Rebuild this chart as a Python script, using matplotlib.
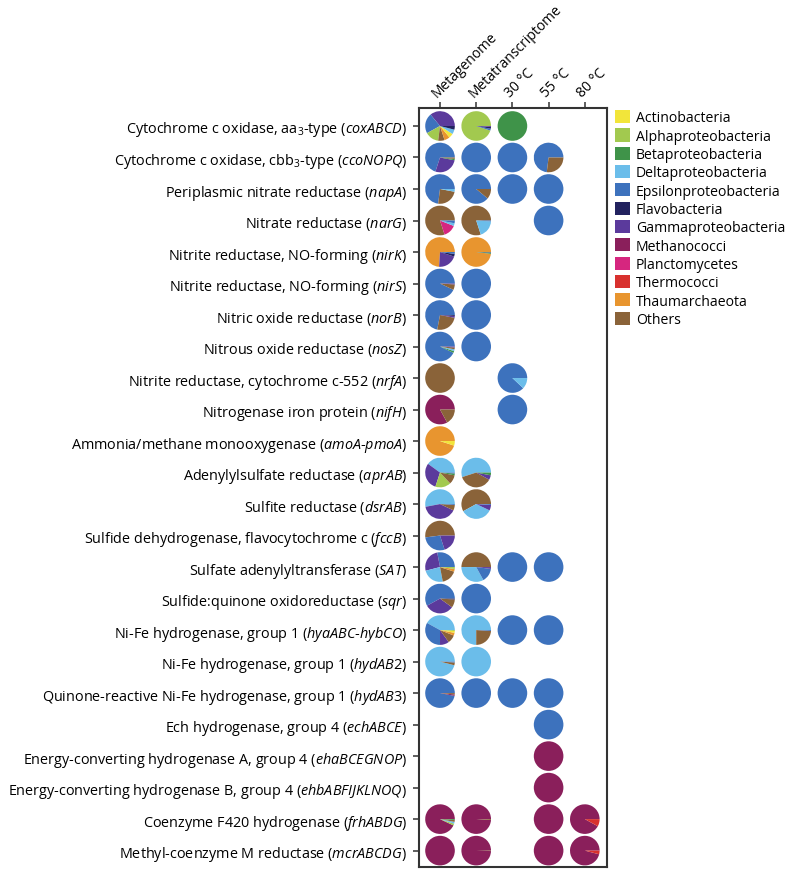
import numpy as np
import matplotlib.pyplot as plt
from matplotlib.patches import Patch

plt.rcParams["font.family"] = ["Open Sans", "DejaVu Sans"]
plt.rcParams["mathtext.fontset"] = "custom"
plt.rcParams["mathtext.rm"] = "Open Sans"
plt.rcParams["mathtext.it"] = "Open Sans:italic"
plt.rcParams["mathtext.bf"] = "Open Sans:bold"


# ---------------------------------------------------------
# DATOS
# ---------------------------------------------------------

taxa = [
    "Actinobacteria",
    "Alphaproteobacteria",
    "Betaproteobacteria",
    "Deltaproteobacteria",
    "Epsilonproteobacteria",
    "Flavobacteria",
    "Gammaproteobacteria",
    "Methanococci",
    "Planctomycetes",
    "Thermococci",
    "Thaumarchaeota",
    "Others",
]
keys = ["Act", "Alp", "Bet", "Del", "Eps", "Fla", "Gam", "Met", "Pla", "The", "Tha", "Oth"]

taxa_colors = [
    "#f2e53a",
    "#a2c94f",
    "#3f9349",
    "#6bbdea",
    "#3d72bd",
    "#22225f",
    "#5b3a9c",
    "#8a1f5b",
    "#d6267f",
    "#d8312e",
    "#e8952f",
    "#8a6339",
]

genes = [
    r"Cytochrome c oxidase, aa$_3$-type ($\mathit{coxABCD}$)",
    r"Cytochrome c oxidase, cbb$_3$-type ($\mathit{ccoNOPQ}$)",
    r"Periplasmic nitrate reductase ($\mathit{napA}$)",
    r"Nitrate reductase ($\mathit{narG}$)",
    r"Nitrite reductase, NO-forming ($\mathit{nirK}$)",
    r"Nitrite reductase, NO-forming ($\mathit{nirS}$)",
    r"Nitric oxide reductase ($\mathit{norB}$)",
    r"Nitrous oxide reductase ($\mathit{nosZ}$)",
    r"Nitrite reductase, cytochrome c-552 ($\mathit{nrfA}$)",
    r"Nitrogenase iron protein ($\mathit{nifH}$)",
    r"Ammonia/methane monooxygenase ($\mathit{amoA}$-$\mathit{pmoA}$)",
    r"Adenylylsulfate reductase ($\mathit{aprAB}$)",
    r"Sulfite reductase ($\mathit{dsrAB}$)",
    r"Sulfide dehydrogenase, flavocytochrome c ($\mathit{fccB}$)",
    r"Sulfate adenylyltransferase ($\mathit{SAT}$)",
    r"Sulfide:quinone oxidoreductase ($\mathit{sqr}$)",
    r"Ni-Fe hydrogenase, group 1 ($\mathit{hyaABC}$-$\mathit{hybCO}$)",
    r"Ni-Fe hydrogenase, group 1 ($\mathit{hydAB2}$)",
    r"Quinone-reactive Ni-Fe hydrogenase, group 1 ($\mathit{hydAB3}$)",
    r"Ech hydrogenase, group 4 ($\mathit{echABCE}$)",
    r"Energy-converting hydrogenase A, group 4 ($\mathit{ehaBCEGNOP}$)",
    r"Energy-converting hydrogenase B, group 4 ($\mathit{ehbABFIJKLNOQ}$)",
    r"Coenzyme F420 hydrogenase ($\mathit{frhABDG}$)",
    r"Methyl-coenzyme M reductase ($\mathit{mcrABCDG}$)",
]

columns = ["Metagenome", "Metatranscriptome", "30 °C", "55 °C", "80 °C"]


def mix(**parts):
    # porcentaje por taxon, en el orden de la leyenda
    return [parts.get(k, 0) for k in keys]


metagenome = [
    mix(Act=5, Alp=15, Del=5, Eps=22, Fla=4, Gam=36, Tha=6, Oth=7),
    mix(Bet=1.5, Eps=70, Gam=27, Oth=1.5),
    mix(Del=3, Eps=73, Oth=24),
    mix(Del=3, Eps=3, Pla=14, Oth=80),
    mix(Eps=2, Fla=3, Gam=21, Tha=74),
    mix(Eps=93, Gam=1, Oth=6),
    mix(Eps=72, Fla=1, Gam=2, Oth=25),
    mix(Bet=2, Del=2, Eps=93, Gam=1, Oth=2),
    mix(Oth=100),
    mix(Met=83, Oth=17),
    mix(Act=5, Tha=95),
    mix(Alp=17, Bet=2, Del=40, Eps=1, Gam=30, Oth=10),
    mix(Del=53, Eps=1, Gam=40, Oth=6),
    mix(Eps=28, Gam=20, Oth=52),
    mix(Alp=2, Del=24, Eps=28, Gam=26, Tha=3, Oth=17),
    mix(Eps=58, Fla=1, Gam=32, Oth=9),
    mix(Act=2, Alp=1, Del=42, Eps=33, Gam=10, Tha=3, Oth=9),
    mix(Del=96, Eps=1, Oth=3),
    mix(Eps=97, Met=1.5, Oth=1.5),
    None,
    None,
    None,
    mix(Alp=2, Bet=1, Del=2, Met=93, Oth=2),
    mix(Met=100),
]

metatranscriptome = [
    mix(Alp=95, Eps=2, Fla=2, Gam=1),
    mix(Eps=100),
    mix(Eps=89, Oth=11),
    mix(Del=19, Eps=1, Oth=80),
    mix(Bet=1.5, Gam=0.5, Tha=98),
    mix(Eps=100),
    mix(Eps=100),
    mix(Eps=100),
    None,
    None,
    None,
    mix(Bet=3, Del=55, Gam=5, Oth=37),
    mix(Del=35, Eps=1, Gam=6, Oth=58),
    None,
    mix(Del=33, Eps=15, Gam=2, Oth=50),
    mix(Eps=100),
    mix(Del=75, Eps=1, Oth=24),
    mix(Del=100),
    mix(Eps=100),
    None,
    None,
    None,
    mix(Met=99, Oth=1),
    mix(Met=99.5, Oth=0.5),
]

temp_30 = [
    mix(Bet=100),
    mix(Eps=100),
    mix(Eps=100),
    None, None, None, None, None,
    mix(Del=12, Eps=88),
    mix(Eps=100),
    None, None, None, None,
    mix(Eps=100),
    None,
    mix(Eps=100),
    None,
    mix(Eps=100),
    None, None, None, None, None,
]

temp_55 = [
    None,
    mix(Eps=73, Oth=27),
    mix(Eps=100),
    mix(Eps=100),
    None, None, None, None, None, None, None, None, None, None,
    mix(Eps=100),
    None,
    mix(Eps=100),
    None,
    mix(Eps=100),
    mix(Eps=100),
    mix(Met=100),
    mix(Met=100),
    mix(Met=100),
    mix(Met=100),
]

temp_80 = [None] * 22 + [
    mix(Met=92, The=8),
    mix(Met=96, The=4),
]

column_data = [metagenome, metatranscriptome, temp_30, temp_55, temp_80]


# ---------------------------------------------------------
# FIGURA
# ---------------------------------------------------------

fig = plt.figure(figsize=(7.87, 8.78), dpi=100)
ax = fig.add_axes([419 / 787, 10 / 878, 188 / 787, 759 / 878])

n_rows = len(genes)
x_step = 36.2 / 31.5  # separacion entre columnas (en unidades de fila)

for c, col in enumerate(column_data):
    for r, vals in enumerate(col):
        if vals is None:
            continue
        vals = np.array(vals, dtype=float)
        # R pie: de mayor a menor, desde las 3 en punto, antihorario
        order = [i for i in np.argsort(-vals, kind="stable") if vals[i] > 0]
        ax.pie(
            vals[order],
            colors=[taxa_colors[i] for i in order],
            center=(c * x_step, n_rows - 1 - r),
            radius=0.47,
            startangle=0,
            counterclock=True,
            frame=True,
            wedgeprops=dict(linewidth=0),
        )

ax.set_aspect("auto")
ax.set_xlim(-0.667, -0.667 + 188 / 31.5)
ax.set_ylim(-0.52, n_rows - 1 + 0.571)

ax.set_yticks(np.arange(n_rows))
ax.set_yticklabels(genes[::-1], fontsize=10.4)

ax.set_xticks(np.arange(len(columns)) * x_step)
ax.set_xticklabels(columns, fontsize=10)
ax.xaxis.tick_top()
ax.tick_params(axis="x", length=4.3, width=1.1, pad=1.5, color="#333333")
ax.tick_params(axis="y", length=4, width=1.1, pad=4.5, color="#333333")
for lab in ax.get_xticklabels():
    lab.set_rotation(45)
    lab.set_ha("left")
    lab.set_va("bottom")
    lab.set_rotation_mode("anchor")

for spine in ax.spines.values():
    spine.set_linewidth(1.5)
    spine.set_color("#333333")

handles = [
    Patch(facecolor=color, edgecolor="none", label=name)
    for name, color in zip(taxa, taxa_colors)
]
ax.legend(
    handles=handles,
    loc="upper left",
    bbox_to_anchor=(615 / 787, 1 - 111 / 878),
    bbox_transform=fig.transFigure,
    frameon=False,
    fontsize=10.1,
    handlelength=1.07,
    handleheight=1.07,
    handletextpad=0.43,
    labelspacing=0.21,
    borderpad=0,
    borderaxespad=0,
)

plt.savefig("out.png", dpi=100)
plt.close()
